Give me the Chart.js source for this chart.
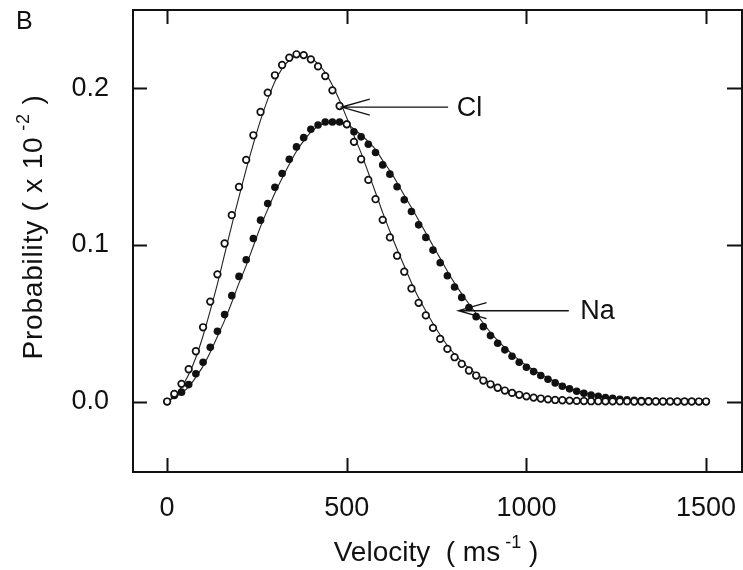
<!DOCTYPE html>
<html>
<head>
<meta charset="utf-8">
<script src="https://cdn.jsdelivr.net/npm/chart.js@4/dist/chart.umd.min.js"></script>
<style>
  html, body { margin: 0; padding: 0; background: #fff; }
  #grafico { display: block; }
</style>
</head>
<body>
<canvas id="grafico" width="743" height="570"></canvas>
<script>
// velocity grid (m/s) and values
const velocidade = [
  0, 20, 40, 60, 80, 100, 120, 140, 160, 180, 200, 220, 240, 260, 280, 300,
  320, 340, 360, 380, 400, 420, 440, 460, 480, 500, 520, 540, 560, 580, 600,
  620, 640, 660, 680, 700, 720, 740, 760, 780, 800, 820, 840, 860, 880, 900,
  920, 940, 960, 980, 1000, 1020, 1040, 1060, 1080, 1100, 1120, 1140, 1160,
  1180, 1200, 1220, 1240, 1260, 1280, 1300, 1320, 1340, 1360, 1380, 1400,
  1420, 1440, 1460, 1480, 1500
];

// Cl: open circles
const clPontos = [
  0, 0.0049, 0.0113, 0.0206, 0.0321, 0.0474, 0.0638, 0.0812, 0.1009, 0.1190,
  0.1370, 0.1543, 0.1700, 0.1849, 0.1972, 0.2083, 0.2149, 0.2195, 0.2217, 0.2212,
  0.2185, 0.2140, 0.2078, 0.1987, 0.1887, 0.1770, 0.1658, 0.1547, 0.1415, 0.1292,
  0.1160, 0.1048, 0.0931, 0.0829, 0.0722, 0.0630, 0.0550, 0.0470, 0.0400, 0.0336,
  0.0283, 0.0240, 0.0198, 0.0166, 0.0134, 0.0110, 0.0088, 0.0070, 0.0055, 0.0043,
  0.0033, 0.0025, 0.0019, 0.0014, 0.0010, 0.0008, 0.0006, 0.0004, 0.0003, 0.0002,
  0.0002, 0.0001, 0.0001, 0.0001, 0.0001, 0, 0, 0, 0, 0, 0, 0, 0, 0, 0, 0
];

// Na: filled circles
const naPontos = [
  0, 0.0038, 0.0060, 0.0108, 0.0177, 0.0251, 0.0346, 0.0448, 0.0555, 0.0676,
  0.0799, 0.0905, 0.1041, 0.1158, 0.1264, 0.1368, 0.1456, 0.1547, 0.1626, 0.1685,
  0.1739, 0.1766, 0.1785, 0.1785, 0.1785, 0.1770, 0.1723, 0.1690, 0.1643, 0.1590,
  0.1511, 0.1452, 0.1371, 0.1288, 0.1213, 0.1128, 0.1048, 0.0967, 0.0886, 0.0803,
  0.0731, 0.0665, 0.0600, 0.0542, 0.0478, 0.0421, 0.0372, 0.0330, 0.0289, 0.0251,
  0.0219, 0.0191, 0.0166, 0.0142, 0.0119, 0.0098, 0.0081, 0.0066, 0.0053, 0.0042,
  0.0033, 0.0026, 0.0020, 0.0015, 0.0011, 0.0008, 0.0006, 0.0004, 0.0003, 0.0002,
  0.0002, 0.0001, 0.0001, 0.0001, 0, 0
];

// fitted curves (thin lines)
const clAjuste = [
  0, 0.0032, 0.0091, 0.0173, 0.0281, 0.0420, 0.0581, 0.0751, 0.0940, 0.1127,
  0.1307, 0.1482, 0.1645, 0.1797, 0.1929, 0.2044, 0.2126, 0.2179, 0.2209, 0.2214,
  0.2194, 0.2156, 0.2100, 0.2019, 0.1922, 0.1811, 0.1697, 0.1586, 0.1461, 0.1335,
  0.1206, 0.1087, 0.0972, 0.0865, 0.0759, 0.0662, 0.0578, 0.0498, 0.0425, 0.0358,
  0.0302, 0.0255, 0.0213, 0.0177, 0.0145, 0.0118, 0.0096, 0.0076, 0.0060, 0.0047,
  0.0037, 0.0028, 0.0021, 0.0016, 0.0011, 0.0009, 0.0007, 0.0005, 0.0003, 0.0002,
  0.0002, 0.0001, 0.0001, 0.0001, 0.0001, 0, 0, 0, 0, 0, 0, 0, 0, 0, 0, 0
];
const naAjuste = [
  0, 0.0026, 0.0053, 0.0093, 0.0156, 0.0226, 0.0315, 0.0415, 0.0518, 0.0634,
  0.0756, 0.0868, 0.0993, 0.1117, 0.1227, 0.1332, 0.1425, 0.1515, 0.1598, 0.1664,
  0.1720, 0.1757, 0.1778, 0.1785, 0.1785, 0.1775, 0.1739, 0.1702, 0.1659, 0.1609,
  0.1539, 0.1473, 0.1399, 0.1317, 0.1239, 0.1158, 0.1076, 0.0995, 0.0914, 0.0832,
  0.0756, 0.0688, 0.0623, 0.0562, 0.0500, 0.0441, 0.0389, 0.0345, 0.0303, 0.0264,
  0.0230, 0.0201, 0.0175, 0.0150, 0.0127, 0.0105, 0.0087, 0.0071, 0.0058, 0.0046,
  0.0036, 0.0028, 0.0022, 0.0017, 0.0012, 0.0009, 0.0007, 0.0005, 0.0004, 0.0003,
  0.0002, 0.0001, 0.0001, 0.0001, 0, 0
];

const xTicks = [0, 500, 1000, 1500];
const yTicks = [0, 0.1, 0.2];

const fonte = "'Liberation Sans', Arial, sans-serif";

// arrow labels: tip (velocity, probability), tail velocity, text velocity
const setas = [
  { texto: "Cl", ponta: [486, 0.188], cauda: 782, rotulo: 806 },
  { texto: "Na", ponta: [811, 0.058], cauda: 1118, rotulo: 1150 },
];

function pares(ys) {
  return velocidade.map((v, i) => ({ x: v, y: ys[i] }));
}

// draws text pieces, some of them as superscript, centred on (0,0)
function textoComExpoente(ctx, partes, tam) {
  const sup = Math.round(tam * 0.66);
  const medidas = partes.map(p => {
    ctx.font = (p.sup ? sup : tam) + "px " + fonte;
    return ctx.measureText(p.t).width;
  });
  const total = medidas.reduce((a, b) => a + b, 0);
  let x = -total / 2;
  partes.forEach((p, i) => {
    ctx.font = (p.sup ? sup : tam) + "px " + fonte;
    ctx.fillText(p.t, x, p.sup ? -Math.round(tam * 0.45) : 0);
    x += medidas[i];
  });
}

const moldura = {
  id: "moldura",
  afterDatasetsDraw(chart) {
    const ctx = chart.ctx;
    const a = chart.chartArea;
    const sx = chart.scales.x;
    const sy = chart.scales.y;
    ctx.save();
    ctx.strokeStyle = "#111";
    ctx.lineWidth = 2;
    ctx.strokeRect(a.left, a.top, a.right - a.left, a.bottom - a.top);

    // inward ticks on all four sides
    ctx.beginPath();
    for (const t of xTicks) {
      const px = Math.round(sx.getPixelForValue(t)) + 0.5;
      ctx.moveTo(px, a.bottom); ctx.lineTo(px, a.bottom - 14);
      ctx.moveTo(px, a.top); ctx.lineTo(px, a.top + 14);
    }
    for (const t of yTicks) {
      const py = Math.round(sy.getPixelForValue(t)) + 0.5;
      ctx.moveTo(a.left, py); ctx.lineTo(a.left + 14, py);
      ctx.moveTo(a.right, py); ctx.lineTo(a.right - 15, py);
    }
    ctx.stroke();

    // arrows with labels
    ctx.lineWidth = 1.4;
    ctx.fillStyle = "#111";
    ctx.font = "27px " + fonte;
    ctx.textBaseline = "middle";
    for (const s of setas) {
      const px = sx.getPixelForValue(s.ponta[0]);
      const py = sy.getPixelForValue(s.ponta[1]);
      const tx = sx.getPixelForValue(s.cauda);
      ctx.beginPath();
      ctx.moveTo(px, py); ctx.lineTo(tx, py);
      ctx.moveTo(px + 28, py - 8); ctx.lineTo(px, py); ctx.lineTo(px + 28, py + 8);
      ctx.stroke();
      ctx.fillText(s.texto, sx.getPixelForValue(s.rotulo), py + 1);
    }

    // axis titles and panel letter
    ctx.textBaseline = "alphabetic";
    ctx.textAlign = "left";
    ctx.font = "25px " + fonte;
    ctx.fillText("B", 16, 29);

    ctx.save();
    ctx.translate(436, 561);
    textoComExpoente(ctx, [
      { t: "Velocity  ( ms" },
      { t: " -1", sup: true },
      { t: " )" },
    ], 28);
    ctx.restore();

    ctx.save();
    ctx.translate(42, 227);
    ctx.rotate(-Math.PI / 2);
    ctx.letterSpacing = "0.8px";
    textoComExpoente(ctx, [
      { t: "Probability ( x 10" },
      { t: " -2", sup: true },
      { t: " )" },
    ], 28);
    ctx.restore();
    ctx.restore();
  },
};

new Chart(document.getElementById("grafico"), {
  type: "line",
  data: {
    datasets: [
      {
        label: "Cl",
        data: pares(clPontos),
        showLine: false,
        pointRadius: 3.3,
        pointBorderWidth: 1.7,
        pointBackgroundColor: "#fff",
        pointBorderColor: "#111",
      },
      {
        label: "Na",
        data: pares(naPontos),
        showLine: false,
        pointRadius: 3.8,
        pointBorderWidth: 0,
        pointBackgroundColor: "#111",
        pointBorderColor: "#111",
      },
      {
        label: "Cl fit",
        data: pares(clAjuste),
        borderColor: "#222",
        borderWidth: 1.1,
        pointRadius: 0,
        tension: 0.3,
      },
      {
        label: "Na fit",
        data: pares(naAjuste),
        borderColor: "#222",
        borderWidth: 1.1,
        pointRadius: 0,
        tension: 0.3,
      },
    ],
  },
  options: {
    responsive: false,
    animation: false,
    layout: { autoPadding: false, padding: { left: 0, top: 10, right: 1, bottom: 0 } },
    plugins: { legend: { display: false }, tooltip: { enabled: false } },
    scales: {
      x: {
        type: "linear",
        min: -95,
        max: 1600,
        afterBuildTicks: s => { s.ticks = xTicks.map(v => ({ value: v })); },
        afterFit: s => {
          s.height = 98;
          s.paddingLeft = 0;
          s.paddingRight = 0;
        },
        grid: { display: false },
        border: { display: false },
        ticks: {
          color: "#111",
          padding: 12,
          maxRotation: 0,
          font: { family: fonte, size: 27 },
          callback: v => String(v),
        },
      },
      y: {
        type: "linear",
        min: -0.045,
        max: 0.25,
        afterBuildTicks: s => { s.ticks = yTicks.map(v => ({ value: v })); },
        afterFit: s => {
          s.width = 133;
          s.paddingTop = 0;
          s.paddingBottom = 0;
        },
        grid: { display: false },
        border: { display: false },
        ticks: {
          color: "#111",
          padding: 16,
          font: { family: fonte, size: 27 },
          callback: v => v.toFixed(1),
        },
      },
    },
  },
  plugins: [moldura],
});
</script>
</body>
</html>
